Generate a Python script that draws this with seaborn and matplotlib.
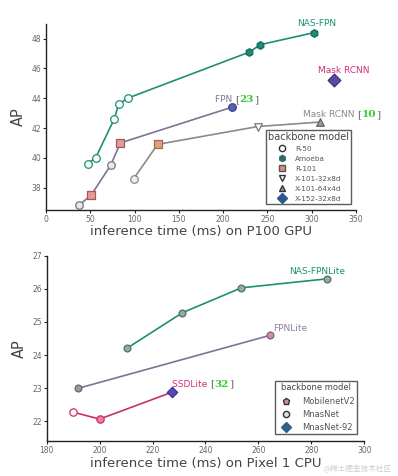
import matplotlib
matplotlib.use("Agg")
import matplotlib.pyplot as plt
from matplotlib.lines import Line2D
import seaborn as sns
import pandas as pd

# ---- data: P100 GPU panel ----
nas_fpn_ms = [47, 56, 77, 82, 92, 229.5, 242, 302]
nas_fpn_ap = [39.6, 40.0, 42.6, 43.6, 44.0, 47.1, 47.6, 48.4]
nas_fpn_bb = ['R-50', 'R-50', 'R-50', 'R-50', 'R-50', 'Amoeba', 'Amoeba', 'Amoeba']

fpn_ms = [37, 51, 73, 84, 210]
fpn_ap = [36.8, 37.5, 39.5, 41.0, 43.4]
fpn_bb = ['R-50', 'R-101', 'R-50', 'R-101', 'X-152-32x8d']

mask_ms = [99, 126, 239, 309]
mask_ap = [38.6, 40.9, 42.1, 42.4]
mask_bb = ['R-50', 'R-101', 'X-101-32x8d', 'X-101-64x4d']

mask152_ms = [325]
mask152_ap = [45.2]
mask152_bb = ['X-152-32x8d']

# ---- data: Pixel 1 CPU panel ----
nasl_ms = [210.2, 231.3, 253.6, 285.8]
nasl_ap = [24.2, 25.28, 26.03, 26.3]
nasl_bb = ['MnasNet', 'MnasNet', 'MnasNet', 'MnasNet']

fpnl_ms = [192, 264.5]
fpnl_ap = [23.0, 24.6]
fpnl_bb = ['MnasNet', 'MobilenetV2']

ssdl_ms = [190, 200, 227.3]
ssdl_ap = [22.28, 22.07, 22.88]
ssdl_bb = ['MnasNet', 'MobilenetV2', 'MnasNet-92']

top_backbones = ['R-50', 'Amoeba', 'R-101', 'X-101-32x8d', 'X-101-64x4d', 'X-152-32x8d']
bot_backbones = ['MobilenetV2', 'MnasNet', 'MnasNet-92']

GREEN = '#1b9073'
FPNC = '#7b7594'
GRAY = '#8a8a8a'
MAG = '#cf2f7c'
CRIM = '#c8306a'

sns.set_style("ticks")
plt.rcParams['font.family'] = ['DejaVu Sans', 'Noto Sans CJK SC']

fig = plt.figure(figsize=(3.98, 4.76), dpi=100)
ax1 = fig.add_axes([0.1156, 0.559, 0.779, 0.391])
ax2 = fig.add_axes([0.1173, 0.0729, 0.798, 0.390])


def draw(ax, ms, ap, bb, color, styles, size=30):
    df = pd.DataFrame({'ms': ms, 'ap': ap, 'bb': bb})
    sns.lineplot(data=df, x='ms', y='ap', sort=False, color=color, lw=1.2, ax=ax)
    for b, sub in df.groupby('bb'):
        mk, fc, ec = styles[b]
        sns.scatterplot(data=sub, x='ms', y='ap', marker=mk, color=fc, edgecolor=ec,
                        linewidth=0.9, s=size, ax=ax, zorder=5, clip_on=False)


# top panel
draw(ax1, nas_fpn_ms, nas_fpn_ap, nas_fpn_bb, GREEN,
     {'R-50': ('o', 'white', GREEN), 'Amoeba': ('h', '#1f8a78', '#17665a')})
draw(ax1, fpn_ms, fpn_ap, fpn_bb, FPNC,
     {'R-50': ('o', '#e8e8e8', '#777777'), 'R-101': ('s', '#e39a9a', '#a05a5a'),
      'X-152-32x8d': ('o', '#5560b0', '#3c4690')})
draw(ax1, mask_ms, mask_ap, mask_bb, GRAY,
     {'R-50': ('o', '#eeeeee', '#888888'), 'R-101': ('s', '#e0a080', '#a06a50'),
      'X-101-32x8d': ('v', 'white', '#777777'), 'X-101-64x4d': ('^', '#9a9a9a', '#666666')})
draw(ax1, mask152_ms, mask152_ap, mask152_bb, MAG,
     {'X-152-32x8d': ('D', '#5b4a9e', '#3e3280')}, size=42)

ax1.set_xlim(0, 350)
ax1.set_ylim(36.5, 49)
ax1.set_xticks([0, 50, 100, 150, 200, 250, 300, 350])
ax1.set_yticks([38, 40, 42, 44, 46, 48])
ax1.set_xlabel('inference time (ms) on P100 GPU', fontsize=9.5, color='#444444', labelpad=1)
ax1.set_ylabel('AP', fontsize=10.5, color='#444444', labelpad=4)

ax1.text(306, 49.05, 'NAS-FPN', color=GREEN, fontsize=6.5, ha='center', va='center')
ax1.text(336, 45.85, 'Mask RCNN', color=MAG, fontsize=6.5, ha='center', va='center')


def cite(ax, x, y, name, ref, color, ha):
    t = ax.text(x, y, name + ' ', color=color, fontsize=6.5, ha=ha, va='baseline')
    t = ax.annotate('[', xy=(1, 0), xycoords=t, va='bottom', color='#666666',
                    fontsize=7.5, family='DejaVu Serif', annotation_clip=False)
    t = ax.annotate(ref, xy=(1, 0), xycoords=t, va='bottom', color='#2ecc2e',
                    fontsize=7.5, family='DejaVu Serif', weight='bold', annotation_clip=False)
    ax.annotate(']', xy=(1, 0), xycoords=t, va='bottom', color='#666666',
                fontsize=7.5, family='DejaVu Serif', annotation_clip=False)


cite(ax1, 214, 43.75, 'FPN', '23', FPNC, 'right')
cite(ax1, 290, 42.75, 'Mask RCNN', '10', GRAY, 'left')

h1 = [Line2D([], [], ls='', marker='o', mfc='white', mec='#333333', ms=4.5),
      Line2D([], [], ls='', marker='h', mfc='#2f6b6b', mec='#2f6b6b', ms=4.5),
      Line2D([], [], ls='', marker='s', mfc='#e08a80', mec='#555555', ms=4.5),
      Line2D([], [], ls='', marker='v', mfc='white', mec='#333333', ms=4.5),
      Line2D([], [], ls='', marker='^', mfc='#8a9a9a', mec='#333333', ms=4.5),
      Line2D([], [], ls='', marker='D', mfc='#2a5a8a', mec='#2a5a8a', ms=5)]
leg1 = ax1.legend(h1, top_backbones, title='backbone model', loc='lower right',
                  bbox_to_anchor=(0.995, 0.012), fontsize=5.2, title_fontsize=7,
                  frameon=True, fancybox=False, edgecolor='#333333',
                  labelspacing=0.55, handletextpad=0.8, borderpad=0.3, handlelength=2)
leg1.get_frame().set_linewidth(1.0)
for t in leg1.get_texts():
    t.set_color('#555555')
leg1.get_title().set_color('#444444')

# bottom panel
draw(ax2, nasl_ms, nasl_ap, nasl_bb, GREEN,
     {'MnasNet': ('o', '#8fae9e', '#55705f')}, size=24)
draw(ax2, fpnl_ms, fpnl_ap, fpnl_bb, FPNC,
     {'MnasNet': ('o', '#9a9a9a', '#666666'), 'MobilenetV2': ('o', '#cc90b4', '#8a5a7a')}, size=24)
draw(ax2, ssdl_ms, ssdl_ap, ssdl_bb, CRIM,
     {'MnasNet': ('o', 'white', CRIM), 'MobilenetV2': ('o', '#e880aa', CRIM),
      'MnasNet-92': ('D', '#5a4bb0', '#3d2f90')}, size=28)

ax2.set_xlim(180, 300)
ax2.set_ylim(21.4, 27.0)
ax2.set_xticks([180, 200, 220, 240, 260, 280, 300])
ax2.set_yticks([22, 23, 24, 25, 26, 27])
ax2.set_xlabel('inference time (ms) on Pixel 1 CPU', fontsize=9.5, color='#444444', labelpad=1)
ax2.set_ylabel('AP', fontsize=10.5, color='#444444', labelpad=4)

ax2.text(282.3, 26.52, 'NAS-FPNLite', color=GREEN, fontsize=6.5, ha='center', va='center')
ax2.text(271.9, 24.81, 'FPNLite', color='#8a80a0', fontsize=6.5, ha='center', va='center')
cite(ax2, 227.5, 23.05, 'SSDLite', '32', MAG, 'left')

h2 = [Line2D([], [], ls='', marker='p', mfc='#c890b0', mec='#333333', ms=4.5),
      Line2D([], [], ls='', marker='o', mfc='#dddddd', mec='#333333', ms=4.5),
      Line2D([], [], ls='', marker='D', mfc='#2f5f8a', mec='#2f5f8a', ms=5)]
leg2 = ax2.legend(h2, bot_backbones, title='backbone model', loc='lower right',
                  bbox_to_anchor=(0.99, 0.015), fontsize=6, title_fontsize=6,
                  frameon=True, fancybox=False, edgecolor='#333333',
                  labelspacing=0.5, handletextpad=0.9, borderpad=0.3, handlelength=2)
leg2.get_frame().set_linewidth(1.0)
for t in leg2.get_texts():
    t.set_color('#555555')
leg2.get_title().set_color('#444444')

for ax in (ax1, ax2):
    sns.despine(ax=ax)
    ax.tick_params(labelsize=5.5, labelcolor='#666666', length=2, width=0.8, pad=1.5)
    for s in ('left', 'bottom'):
        ax.spines[s].set_linewidth(1.0)
        ax.spines[s].set_color('#222222')

fig.text(392 / 398, 1 - 469 / 476, '@稀土掘金技术社区', ha='right', va='center',
         fontsize=5.5, color='#cccccc', family=['Noto Sans CJK SC', 'DejaVu Sans'])

fig.savefig('out.png', dpi=100)
